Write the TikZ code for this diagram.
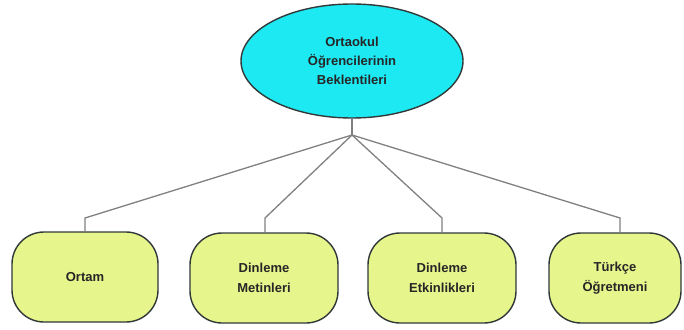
\documentclass[tikz,border=0pt]{standalone}
\usepackage{fontspec}
\setmainfont{Liberation Sans}
\usetikzlibrary{shapes.geometric}
\definecolor{cyanfill}{HTML}{1DE9F2}
\definecolor{leaf}{HTML}{E6F58C}
\definecolor{edge}{HTML}{303838}
\definecolor{conn}{HTML}{808080}
\begin{document}
\begin{tikzpicture}[x=1pt,y=-1pt,
  rootnode/.style={ellipse,draw=edge,line width=1.4pt,fill=cyanfill,minimum width=222pt,minimum height=114pt,inner sep=0pt,align=center,font=\bfseries\fontsize{13}{19}\selectfont,text=black!85},
  leafnode/.style={rectangle,rounded corners=32pt,draw=edge,line width=1.4pt,fill=leaf,minimum height=90pt,inner sep=0pt,align=center,font=\bfseries\fontsize{13}{20}\selectfont,text=black!85},
  connector/.style={draw=conn,line width=1.3pt}]
\useasboundingbox (0,0) rectangle (684,329);
\node[rootnode] (root) at (352,61) {Ortaokul\\Öğrencilerinin\\Beklentileri};
\coordinate (hub) at (352,135);
\node[leafnode,minimum width=146pt] (a) at (85,277) {Ortam};
\node[leafnode,minimum width=148pt] (b) at (264,278) {Dinleme\\Metinleri};
\node[leafnode,minimum width=148pt] (c) at (442,278) {Dinleme\\Etkinlikleri};
\node[leafnode,minimum width=132pt] (d) at (615,278) {Türkçe\\Öğretmeni};
\coordinate (ka) at (85,218);
\coordinate (kb) at (265,218);
\coordinate (kc) at (442,218);
\coordinate (kd) at (620,218);
\draw[connector] (root.south) -- (hub);
\draw[connector] (hub) -- (ka) -- (a.north -| ka);
\draw[connector] (hub) -- (kb) -- (b.north -| kb);
\draw[connector] (hub) -- (kc) -- (c.north -| kc);
\draw[connector] (hub) -- (kd) -- (d.north -| kd);
\end{tikzpicture}
\end{document}
